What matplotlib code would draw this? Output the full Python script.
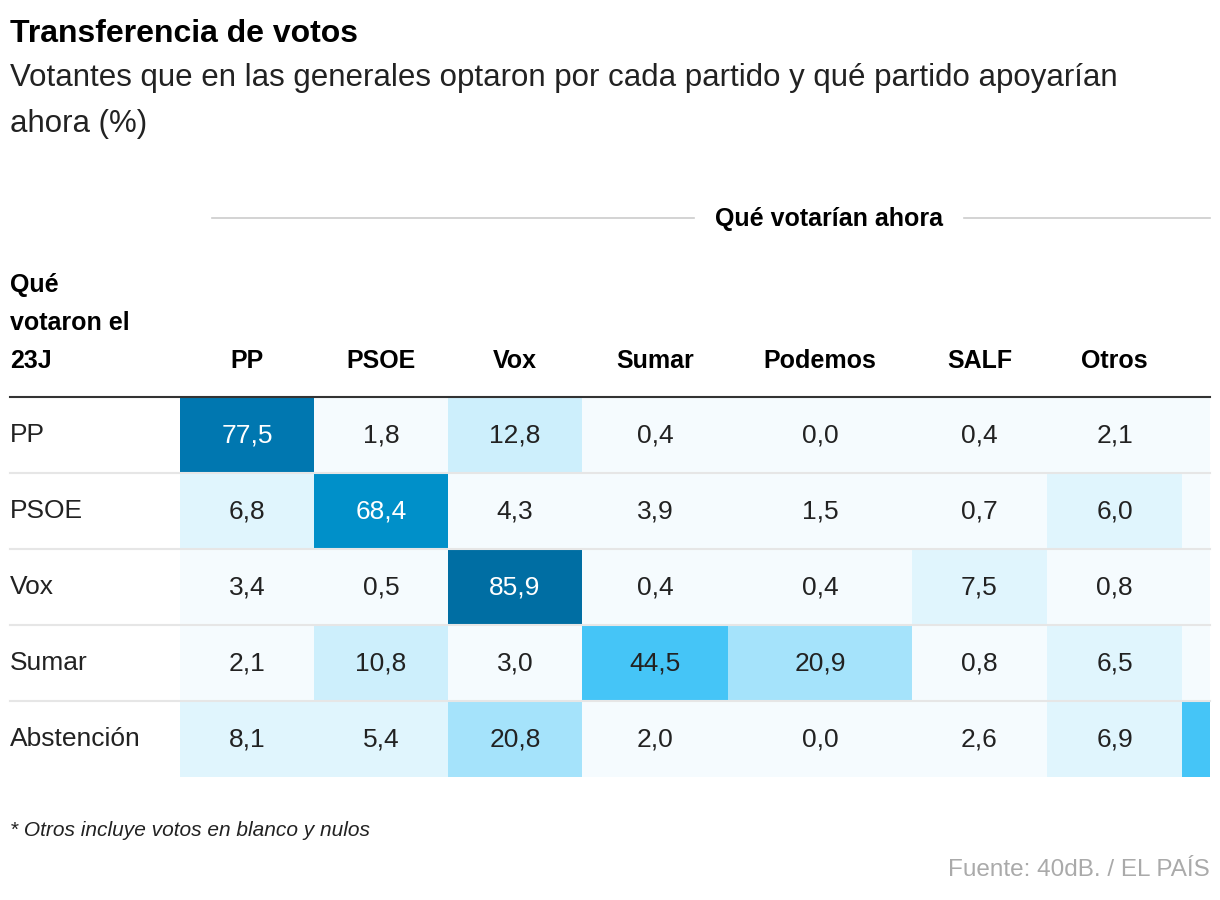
import matplotlib
matplotlib.use("Agg")
import matplotlib.pyplot as plt
from matplotlib.patches import Rectangle

# data
cols = ["PP", "PSOE", "Vox", "Sumar", "Podemos", "SALF", "Otros", ""]
rows = ["PP", "PSOE", "Vox", "Sumar", "Abstención"]
pp = [77.5, 1.8, 12.8, 0.4, 0.0, 0.4, 2.1, 1.5]
psoe = [6.8, 68.4, 4.3, 3.9, 1.5, 0.7, 6.0, 0.0]
vox = [3.4, 0.5, 85.9, 0.4, 0.4, 7.5, 0.8, 0.0]
sumar = [2.1, 10.8, 3.0, 44.5, 20.9, 0.8, 6.5, 2.0]
abst = [8.1, 5.4, 20.8, 2.0, 0.0, 2.6, 6.9, 54.2]
values = [pp, psoe, vox, sumar, abst]

# layout (pixels)
col_w = [134, 134, 134, 146, 184, 135, 135, 28]
x0, y0, row_h = 180, 397, 76

def cell_color(v):
    if v < 5: return "#f5fbfe"
    if v < 10: return "#e0f5fd"
    if v < 15: return "#cdeffc"
    if v < 30: return "#a5e3fb"
    if v < 60: return "#45c5f7"
    if v < 72: return "#0090c9"
    if v < 80: return "#0077b0"
    return "#006ea3"

bold = ["Liberation Sans", "DejaVu Sans"]
plain = ["Liberation Sans", "DejaVu Sans"]

fig = plt.figure(figsize=(12.2, 9), dpi=100)
ax = fig.add_axes([0, 0, 1, 1])
ax.set_xlim(0, 1220); ax.set_ylim(900, 0); ax.axis("off")

ax.text(10, 34, "Transferencia de votos", fontsize=23, weight="bold", family=bold, va="center")
ax.text(10, 78, "Votantes que en las generales optaron por cada partido y qué partido apoyarían",
        fontsize=22.5, family=plain, va="center", color="#222222")
ax.text(10, 124, "ahora (%)", fontsize=22.5, family=plain, va="center", color="#222222")

# column group header
ax.plot([212, 694], [218, 218], color="#cccccc", lw=1.2)
ax.plot([964, 1210], [218, 218], color="#cccccc", lw=1.2)
ax.text(829, 219, "Qué votarían ahora", fontsize=18, weight="bold", family=bold, ha="center", va="center")

ax.text(10, 285, "Qué", fontsize=18, weight="bold", family=bold, va="center")
ax.text(10, 323, "votaron el", fontsize=18, weight="bold", family=bold, va="center")
ax.text(10, 361, "23J", fontsize=18, weight="bold", family=bold, va="center")

xs = [x0]
for w in col_w:
    xs.append(xs[-1] + w)
for j, c in enumerate(cols):
    ax.text(xs[j] + col_w[j] / 2, 361, c, fontsize=18, weight="bold", family=bold,
            ha="center", va="center")

for i, r in enumerate(rows):
    yt = y0 + i * row_h
    for j, v in enumerate(values[i]):
        ax.add_patch(Rectangle((xs[j], yt), col_w[j], row_h, facecolor=cell_color(v), edgecolor="none"))
        if cols[j]:
            tc = "white" if v > 60 else "#222222"
            ax.text(xs[j] + col_w[j] / 2, yt + row_h / 2, f"{v:.1f}".replace(".", ","),
                    fontsize=19, family=plain, ha="center", va="center", color=tc)
    ax.text(10, yt + row_h / 2, r, fontsize=19, family=plain, va="center", color="#222222")
    if i > 0:
        ax.plot([10, 1210], [yt, yt], color="#e6e6e6", lw=1.5)

ax.plot([10, 1210], [y0, y0], color="#333333", lw=1.5)

ax.text(10, 830, "* Otros incluye votos en blanco y nulos", fontsize=15, style="italic",
        family=plain, va="center", color="#222222")
ax.text(1210, 870, "Fuente: 40dB. / EL PAÍS", fontsize=17.5, family=plain, ha="right",
        va="center", color="#aaaaaa")

fig.savefig("out.png", dpi=100)
